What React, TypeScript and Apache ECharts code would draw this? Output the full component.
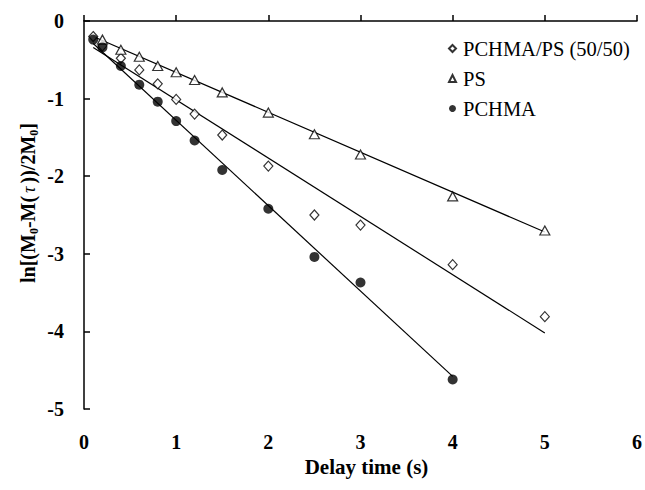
import React, { useEffect, useRef } from "react";
import * as echarts from "echarts";

const blendX = [0.1, 0.2, 0.4, 0.6, 0.8, 1.0, 1.2, 1.5, 2, 2.5, 3, 4, 5];
const blendY = [-0.2, -0.32, -0.48, -0.63, -0.81, -1.01, -1.2, -1.47, -1.87, -2.5, -2.63, -3.14, -3.81];
const psX = [0.2, 0.4, 0.6, 0.8, 1.0, 1.2, 1.5, 2, 2.5, 3, 4, 5];
const psY = [-0.24, -0.37, -0.46, -0.58, -0.66, -0.76, -0.92, -1.18, -1.46, -1.72, -2.26, -2.7];
const pchmaX = [0.1, 0.2, 0.4, 0.6, 0.8, 1.0, 1.2, 1.5, 2, 2.5, 3, 4];
const pchmaY = [-0.24, -0.34, -0.58, -0.82, -1.04, -1.29, -1.54, -1.92, -2.42, -3.04, -3.37, -4.62];

// fitted lines: endpoints
const blendFitX = [0.1, 5];
const blendFitY = [-0.34, -4.02];
const psFitX = [0.1, 5];
const psFitY = [-0.2, -2.72];
const pchmaFitX = [0.1, 4];
const pchmaFitY = [-0.29, -4.58];

const xTicks = [0, 1, 2, 3, 4, 5, 6];
const yTicks = [0, -1, -2, -3, -4, -5];

const seriesNames = ["PCHMA/PS (50/50)", "PS", "PCHMA"];

const zip = (xs: number[], ys: number[]) => xs.map((x, i) => [x, ys[i]]);

export default function App() {
  const ref = useRef<HTMLDivElement>(null);
  useEffect(() => {
    if (!ref.current) return;
    const chart = echarts.init(ref.current, undefined, { renderer: "svg" });
    const serif = "Liberation Serif";
    const fitLine = (xs: number[], ys: number[]) => ({
      type: "line",
      data: zip(xs, ys),
      symbol: "none",
      lineStyle: { color: "#000", width: 1.2 },
      silent: true,
      z: 1,
    });
    chart.setOption({
      animation: false,
      backgroundColor: "#fff",
      grid: { left: 84, right: 7, top: 21, bottom: 81 },
      legend: {
        orient: "vertical",
        left: 443,
        top: 33,
        itemWidth: 7,
        itemHeight: 7,
        itemGap: 9,
        data: seriesNames,
        textStyle: { fontFamily: serif, fontSize: 20.5, color: "#000", padding: [0, 0, 0, 2] },
      },
      graphic: [
        {
          type: "text",
          x: 26,
          y: 203,
          rotation: Math.PI / 2,
          style: {
            text: "{n|ln[(M}{s|0}{n|-M(}{t|τ}{n|))/2M}{s|0}{n|]}",
            align: "center",
            verticalAlign: "middle",
            rich: {
              n: { fontFamily: serif, fontSize: 20, fontWeight: "bold", fill: "#000", lineHeight: 24, verticalAlign: "bottom" },
              s: { fontFamily: serif, fontSize: 12, fontWeight: "bold", fill: "#000", lineHeight: 24, verticalAlign: "bottom", padding: [0, 0, -2, 0] },
              t: { fontFamily: serif, fontSize: 18, fontStyle: "italic", fill: "#000", lineHeight: 24, verticalAlign: "bottom", padding: [0, 3, 0, 3] },
            },
          },
        },
      ],
      xAxis: {
        type: "value",
        min: 0,
        max: 6,
        interval: 1,
        name: "Delay time (s)",
        nameLocation: "middle",
        nameGap: 40,
        nameTextStyle: { fontFamily: serif, fontSize: 21, fontWeight: "bold", color: "#000", padding: [0, 0, 0, 12] },
        axisLine: { lineStyle: { color: "#000", width: 1.5 } },
        axisTick: { inside: true, length: 6, lineStyle: { color: "#000", width: 1.5 } },
        axisLabel: {
          fontFamily: serif,
          fontSize: 20,
          fontWeight: "bold",
          color: "#000",
          margin: 23,
          formatter: (v: number) => (xTicks.includes(v) ? String(v) : ""),
        },
        splitLine: { show: false },
      },
      yAxis: {
        type: "value",
        min: -5,
        max: 0,
        interval: 1,
        axisLine: { show: true, lineStyle: { color: "#000", width: 1.5 } },
        axisTick: { show: true, inside: true, length: 6, lineStyle: { color: "#000", width: 1.5 } },
        axisLabel: {
          fontFamily: serif,
          fontSize: 20,
          fontWeight: "bold",
          color: "#000",
          margin: 20,
          formatter: (v: number) => (yTicks.includes(v) ? String(v) : ""),
        },
        splitLine: { show: false },
      },
      series: [
        {
          name: seriesNames[0],
          type: "scatter",
          data: zip(blendX, blendY),
          symbol: "diamond",
          symbolSize: [9, 10],
          itemStyle: { color: "#fff", borderColor: "#000", borderWidth: 1.2 },
          z: 3,
        },
        {
          name: seriesNames[1],
          type: "scatter",
          data: zip(psX, psY),
          symbol: "triangle",
          symbolSize: [10, 9],
          itemStyle: { color: "#fff", borderColor: "#000", borderWidth: 1.2 },
          z: 3,
        },
        {
          name: seriesNames[2],
          type: "scatter",
          data: zip(pchmaX, pchmaY),
          symbol: "circle",
          symbolSize: 10,
          itemStyle: { color: "#000", borderColor: "#000", borderWidth: 0 },
          z: 4,
        },
        fitLine(blendFitX, blendFitY),
        fitLine(psFitX, psFitY),
        fitLine(pchmaFitX, pchmaFitY),
      ],
    });
    return () => chart.dispose();
  }, []);
  return <div ref={ref} style={{ width: 645, height: 490, position: "absolute", left: 0, top: 0 }} />;
}
